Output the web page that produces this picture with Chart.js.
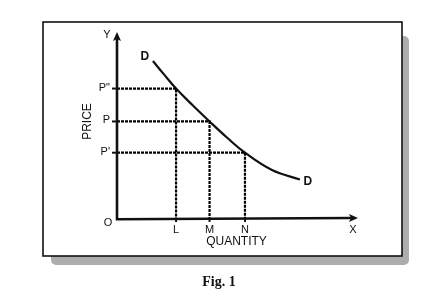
<!DOCTYPE html>
<html>
<head>
<meta charset="utf-8">
<script src="https://cdn.jsdelivr.net/npm/chart.js@4"></script>
<style>
  html, body { margin: 0; padding: 0; background: #ffffff; }
  canvas { display: block; }
</style>
</head>
<body>
<canvas id="fig" width="439" height="305"></canvas>
<script>
// Demand curve D-D (quantity, price) in axis units 0..10
const curveQuantity = [1.49, 1.95, 2.45, 3.15, 3.84, 4.56, 5.31, 6.43, 7.59];
const curvePrice    = [8.44, 7.72, 6.96, 6.05, 5.19, 4.33, 3.51, 2.58, 2.07];

// Marked price / quantity pairs on the curve
const priceLabels    = ['P"', 'P', "P'"];
const priceValues    = [6.96, 5.19, 3.51];
const quantityLabels = ['L', 'M', 'N'];
const quantityValues = [2.45, 3.84, 5.31];

const axisMax = 10;
const ink = '#111111';
const labelFont = '"Liberation Sans", Arial, sans-serif';

/**
 * Build the dashed guide from the price axis to the curve and down to the quantity axis.
 */
function guideDataset(q, p) {
  return {
    data: [{ x: 0, y: p }, { x: q, y: p }, { x: q, y: 0 }],
    borderColor: '#000000',
    borderWidth: 2.2,
    borderDash: [3, 1],
    pointRadius: 0,
    tension: 0,
    fill: false
  };
}

const frameAndAxes = {
  id: 'frameAndAxes',
  beforeDraw(chart) {
    const ctx = chart.ctx;
    ctx.save();
    // drop shadow
    ctx.fillStyle = '#adadad';
    ctx.beginPath();
    ctx.roundRect(51, 36, 358, 229, 5);
    ctx.fill();
    // frame
    ctx.fillStyle = '#ffffff';
    ctx.fillRect(43, 22, 359, 234);
    ctx.strokeStyle = ink;
    ctx.lineWidth = 1.6;
    ctx.strokeRect(43, 22, 359, 234);
    ctx.restore();
  },
  afterDatasetsDraw(chart) {
    const ctx = chart.ctx;
    const xs = chart.scales.x;
    const ys = chart.scales.y;
    const x0 = xs.getPixelForValue(0);
    const y0 = ys.getPixelForValue(0);
    const xEnd = xs.getPixelForValue(axisMax);
    const yEnd = ys.getPixelForValue(axisMax);

    ctx.save();
    ctx.strokeStyle = ink;
    ctx.fillStyle = ink;
    ctx.lineWidth = 2.6;
    ctx.lineCap = 'butt';

    // axes
    ctx.beginPath();
    ctx.moveTo(x0, yEnd + 6);
    ctx.lineTo(x0, y0 + 1.3);
    ctx.lineTo(xEnd - 6, y0 + 0);
    ctx.stroke();

    // arrow heads
    ctx.beginPath();
    ctx.moveTo(x0, yEnd);
    ctx.lineTo(x0 - 4, yEnd + 9);
    ctx.lineTo(x0, yEnd + 7);
    ctx.lineTo(x0 + 4, yEnd + 9);
    ctx.closePath();
    ctx.fill();
    ctx.beginPath();
    ctx.moveTo(xEnd, y0);
    ctx.lineTo(xEnd - 9, y0 - 4);
    ctx.lineTo(xEnd - 7, y0);
    ctx.lineTo(xEnd - 9, y0 + 4);
    ctx.closePath();
    ctx.fill();

    // small ticks
    ctx.lineWidth = 2;
    priceValues.forEach(v => {
      const py = ys.getPixelForValue(v);
      ctx.beginPath();
      ctx.moveTo(x0 - 5, py);
      ctx.lineTo(x0, py);
      ctx.stroke();
    });
    quantityValues.forEach(v => {
      const px = xs.getPixelForValue(v);
      ctx.beginPath();
      ctx.moveTo(px, y0);
      ctx.lineTo(px, y0 + 4);
      ctx.stroke();
    });

    // tick labels
    ctx.font = '11px ' + labelFont;
    ctx.textBaseline = 'middle';
    ctx.textAlign = 'right';
    priceValues.forEach((v, i) => {
      ctx.fillText(priceLabels[i], x0 - 7, ys.getPixelForValue(v) - 1);
    });
    ctx.textAlign = 'center';
    quantityValues.forEach((v, i) => {
      ctx.fillText(quantityLabels[i], xs.getPixelForValue(v), y0 + 12);
    });
    ctx.fillText('O', x0 - 9, y0 + 5);
    ctx.fillText('X', xEnd - 5, y0 + 12);
    ctx.fillText('Y', x0 - 10, yEnd + 3);

    // axis titles
    ctx.font = '12px ' + labelFont;
    ctx.fillText('QUANTITY', (xs.getPixelForValue(quantityValues[0]) + xs.getPixelForValue(quantityValues[2])) / 2 + 26, y0 + 24);
    ctx.save();
    ctx.translate(x0 - 29, ys.getPixelForValue(priceValues[1]));
    ctx.rotate(-Math.PI / 2);
    ctx.fillText('PRICE', 0, 0);
    ctx.restore();

    // curve labels
    ctx.font = 'bold 12px ' + labelFont;
    const last = curveQuantity.length - 1;
    ctx.fillText('D', xs.getPixelForValue(curveQuantity[0]) - 8, ys.getPixelForValue(curvePrice[0]) - 4);
    ctx.fillText('D', xs.getPixelForValue(curveQuantity[last]) + 8, ys.getPixelForValue(curvePrice[last]) + 2);

    // caption
    ctx.font = 'bold 14px "Liberation Serif", "Times New Roman", serif';
    ctx.fillText('Fig. 1', 219, 282);
    ctx.restore();
  }
};

const curveData = curveQuantity.map((q, i) => ({ x: q, y: curvePrice[i] }));

new Chart(document.getElementById('fig').getContext('2d'), {
  type: 'line',
  data: {
    datasets: [
      ...quantityValues.map((q, i) => guideDataset(q, priceValues[i])),
      {
        data: curveData,
        borderColor: ink,
        borderWidth: 2.2,
        pointRadius: 0,
        tension: 0.4,
        fill: false
      }
    ]
  },
  options: {
    responsive: false,
    animation: false,
    events: [],
    layout: { padding: { left: 117, right: 81, top: 32, bottom: 87 } },
    plugins: { legend: { display: false }, tooltip: { enabled: false } },
    scales: {
      x: { type: 'linear', min: 0, max: axisMax, display: false },
      y: { type: 'linear', min: 0, max: axisMax, display: false }
    }
  },
  plugins: [frameAndAxes]
});
</script>
</body>
</html>
